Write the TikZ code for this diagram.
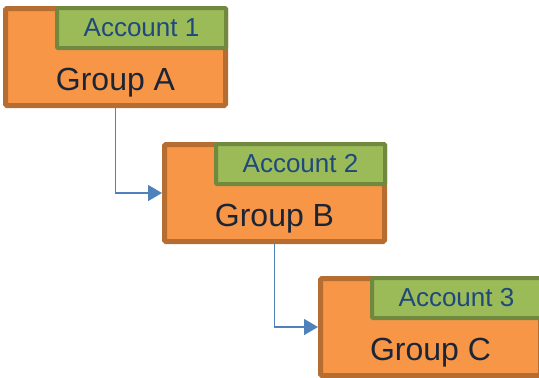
\documentclass[tikz,border=0pt]{standalone}
\usepackage{fontspec}
\setmainfont{Liberation Sans}
\usetikzlibrary{arrows.meta}
\definecolor{grpfill}{HTML}{F79646}
\definecolor{grpline}{HTML}{B66D31}
\definecolor{accfill}{HTML}{9BBB59}
\definecolor{accline}{HTML}{71893F}
\definecolor{linkblue}{HTML}{4F81BD}
\definecolor{acctext}{HTML}{1F497D}
\definecolor{grptext}{HTML}{1C2536}
\begin{document}
\begin{tikzpicture}[x=1pt,y=-1pt,
  groupbox/.style={draw=grpline, fill=grpfill, line width=5pt,
    minimum width=220pt, minimum height=97pt, rounded corners=1.5pt,
    anchor=north west, inner sep=0pt},
  accbox/.style={draw=accline, fill=accfill, line width=4pt,
    minimum width=169pt, minimum height=40pt, rounded corners=1pt,
    anchor=north east, inner sep=0pt},
  acctextstyle/.style={text=acctext, inner sep=0pt, anchor=base,
    font=\fontsize{26}{30}\selectfont},
  grouptext/.style={text=grptext, inner sep=0pt, anchor=base,
    font=\fontsize{32}{38}\selectfont},
  link/.style={draw=linkblue, line width=1.5pt,
    -{Triangle[length=14pt,width=16pt]}}
]
\useasboundingbox (0,0) rectangle (539,378);

% group boxes with their account tabs
\node[groupbox] (gA) at (3,6) {};
\node[accbox] (aA) at (gA.north east) {};
\node[acctextstyle] (lA) at ([yshift=14pt]aA.south) {Account 1};
\node[grouptext] (tA) at ([yshift=18pt]gA.south) {Group A};

\node[groupbox] (gB) at (162,142) {};
\node[accbox] (aB) at (gB.north east) {};
\node[acctextstyle] (lB) at ([yshift=14pt]aB.south) {Account 2};
\node[grouptext] (tB) at ([yshift=18pt]gB.south) {Group B};

\node[groupbox] (gC) at (318,276) {};
\node[accbox] (aC) at (gC.north east) {};
\node[acctextstyle] (lC) at ([yshift=14pt]aC.south) {Account 3};
\node[grouptext] (tC) at ([yshift=18pt]gC.south) {Group C};

% hierarchy connectors
\draw[link] (gA.south) |- (gB.west);
\draw[link] (gB.south) |- (gC.west);
\end{tikzpicture}
\end{document}
